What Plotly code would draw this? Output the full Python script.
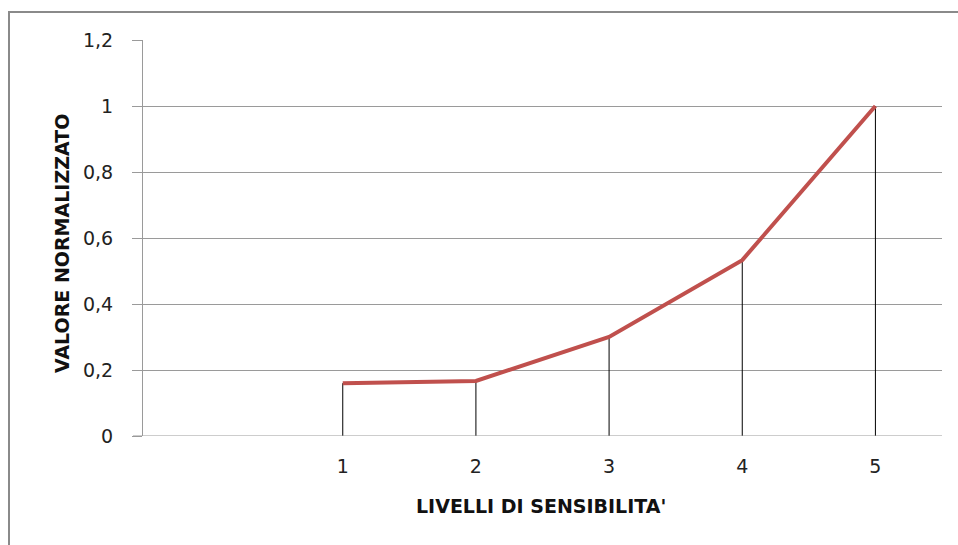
import plotly.graph_objects as go

# Sensitivity levels and their normalised values
levels = [1, 2, 3, 4, 5]
values = [0.16, 0.167, 0.30, 0.533, 1.0]

y_ticks = [0, 0.2, 0.4, 0.6, 0.8, 1.0, 1.2]
y_tick_text = ["0", "0,2", "0,4", "0,6", "0,8", "1", "1,2"]
x_tick_text = ["1", "2", "3", "4", "5"]

W, H = 958, 545
L, R, T, B = 143, 16, 40, 109

# vertical drop lines from each point to the axis
drop_x, drop_y = [], []
for x, v in zip(levels, values):
    drop_x += [x, x, None]
    drop_y += [0, v, None]

fig = go.Figure()
fig.add_trace(go.Scatter(x=drop_x, y=drop_y, mode="lines",
                         line=dict(color="#000000", width=1),
                         hoverinfo="skip", showlegend=False))
fig.add_trace(go.Scatter(x=levels, y=values, mode="lines",
                         line=dict(color="#C0504D", width=4),
                         showlegend=False))

font_main = "'DejaVu Sans', sans-serif"

fig.update_layout(
    width=W, height=H,
    margin=dict(l=L, r=R, t=T, b=B),
    paper_bgcolor="white", plot_bgcolor="white",
    font=dict(family=font_main, size=19, color="#222222"),
    xaxis=dict(range=[-0.5, 5.5], tickvals=levels, ticktext=x_tick_text,
               showgrid=False, zeroline=False, showline=False,
               ticks="", ticklabelstandoff=17,
               tickfont=dict(size=19, color="#222222")),
    yaxis=dict(range=[0, 1.2], tickvals=y_ticks, ticktext=y_tick_text,
               showgrid=True, gridcolor="#9a9a9a", gridwidth=1,
               zeroline=False, showline=True, linecolor="#9a9a9a", linewidth=1,
               ticks="outside", ticklen=10, tickcolor="#9a9a9a",
               ticklabelstandoff=15,
               tickfont=dict(size=19, color="#222222")),
    shapes=[
        # chart frame
        dict(type="rect", xref="paper", yref="paper",
             x0=(9 - L) / (W - L - R), x1=1.2,
             y0=-0.5, y1=(H - B - 12) / (H - T - B),
             line=dict(color="#8a8a8a", width=2), layer="below"),
        # horizontal axis line
        dict(type="line", xref="paper", yref="y",
             x0=-10 / (W - L - R), x1=1, y0=0, y1=0,
             line=dict(color="#9a9a9a", width=1)),
    ],
    annotations=[
        dict(text="<b>VALORE NORMALIZZATO</b>", textangle=-90,
             xref="paper", yref="paper",
             x=(62 - L) / (W - L - R), y=(H - B - 244) / (H - T - B),
             xanchor="center", yanchor="middle", showarrow=False,
             font=dict(size=19, color="#111111", family=font_main)),
        dict(text="<b>LIVELLI DI SENSIBILITA'</b>",
             xref="paper", yref="paper",
             x=(541 - L) / (W - L - R), y=(H - B - 506) / (H - T - B),
             xanchor="center", yanchor="middle", showarrow=False,
             font=dict(size=19, color="#111111", family=font_main)),
    ],
)

fig.write_html("out.html")
